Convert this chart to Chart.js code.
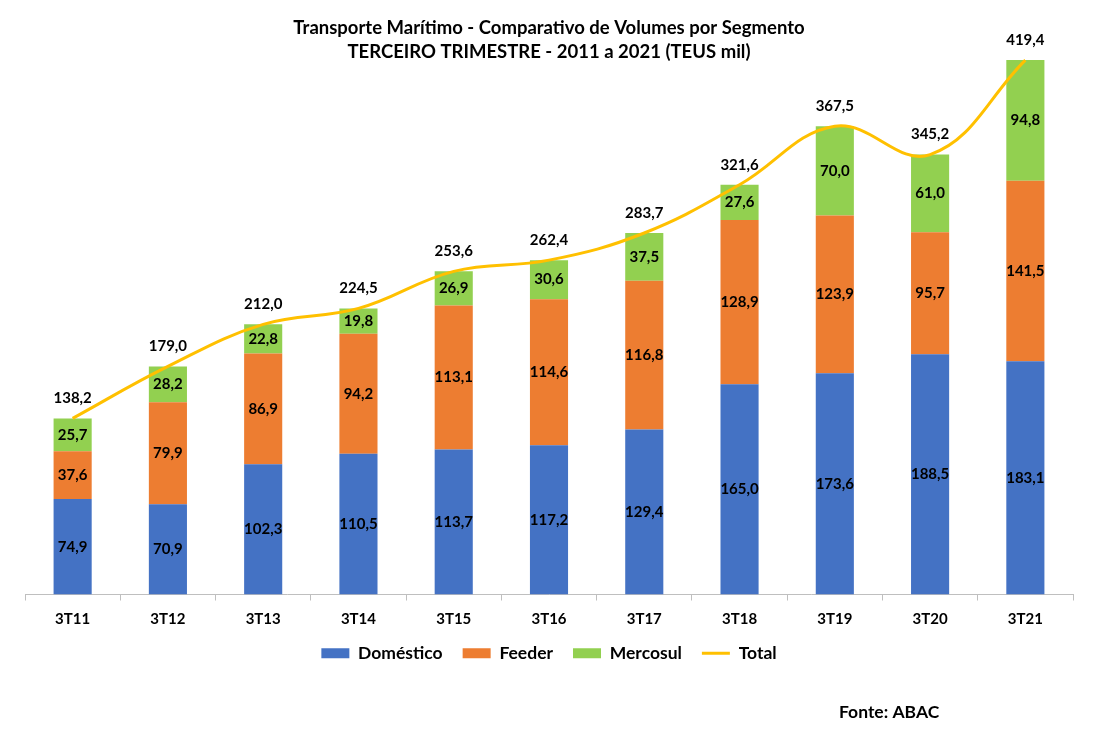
<!DOCTYPE html>
<html>
<head>
<meta charset="utf-8">
<script src="https://cdn.jsdelivr.net/npm/chart.js@4.4.0/dist/chart.umd.min.js"></script>
<style>
  html, body { margin: 0; padding: 0; background: #fff; }
  #wrap { width: 1099px; height: 747px; }
</style>
</head>
<body>
<div id="wrap"><canvas id="chart" width="1099" height="747"></canvas></div>
<script>
const categories = ["3T11", "3T12", "3T13", "3T14", "3T15", "3T16", "3T17", "3T18", "3T19", "3T20", "3T21"];
const domestico = [74.9, 70.9, 102.3, 110.5, 113.7, 117.2, 129.4, 165.0, 173.6, 188.5, 183.1];
const feeder = [37.6, 79.9, 86.9, 94.2, 113.1, 114.6, 116.8, 128.9, 123.9, 95.7, 141.5];
const mercosul = [25.7, 28.2, 22.8, 19.8, 26.9, 30.6, 37.5, 27.6, 70.0, 61.0, 94.8];
const total = [138.2, 179.0, 212.0, 224.5, 253.6, 262.4, 283.7, 321.6, 367.5, 345.2, 419.4];

const titleLines = ["Transporte Marítimo - Comparativo de Volumes por Segmento", "TERCEIRO TRIMESTRE - 2011 a 2021 (TEUS mil)"];
const source = "Fonte: ABAC";

const FONT = "Lato, 'Open Sans', sans-serif";
const fmt = v => v.toFixed(1).replace(".", ",");

// rótulos, título e fonte desenhados à mão
const labelsPlugin = {
  id: "labels",
  afterDatasetsDraw(chart) {
    const ctx = chart.ctx;
    ctx.save();
    ctx.fillStyle = "#000";
    ctx.textAlign = "center";
    ctx.textBaseline = "middle";
    ctx.font = "bold 15px " + FONT;
    chart.data.datasets.forEach((ds, i) => {
      const meta = chart.getDatasetMeta(i);
      meta.data.forEach((el, j) => {
        const v = ds.data[j];
        if (ds.type === "line") {
          ctx.fillText(fmt(v), el.x, el.y - 20);
        } else {
          ctx.fillText(fmt(v), el.x, (el.y + el.base) / 2);
        }
      });
    });
    ctx.restore();
  },
  afterDraw(chart) {
    const ctx = chart.ctx;
    ctx.save();
    ctx.fillStyle = "#000";
    ctx.textAlign = "center";
    ctx.textBaseline = "middle";
    ctx.font = "bold 18.5px " + FONT;
    ctx.fillText(titleLines[0], 549, 28);
    ctx.fillText(titleLines[1], 549, 52);
    ctx.textAlign = "left";
    ctx.font = "bold 17.5px " + FONT;
    ctx.fillText(source, 839, 712);
    ctx.restore();
  }
};

new Chart(document.getElementById("chart"), {
  data: {
    labels: categories,
    datasets: [
      {
        type: "line",
        label: "Total",
        data: total,
        borderColor: "#FFC000",
        backgroundColor: "#FFC000",
        borderWidth: 3,
        pointRadius: 0,
        tension: 0.4,
        order: 0,
      },
      { type: "bar", label: "Doméstico", data: domestico, backgroundColor: "#4472C4", order: 1 },
      { type: "bar", label: "Feeder", data: feeder, backgroundColor: "#ED7D31", order: 1 },
      { type: "bar", label: "Mercosul", data: mercosul, backgroundColor: "#92D050", order: 1 },
    ],
  },
  options: {
    responsive: false,
    animation: false,
    layout: { padding: { top: 30, left: 25, right: 26, bottom: 75 } },
    datasets: { bar: { categoryPercentage: 1, barPercentage: 0.4 } },
    scales: {
      x: {
        stacked: true,
        border: { display: true, color: "#BFBFBF", width: 1 },
        grid: { offset: true, drawOnChartArea: false, drawTicks: true, tickLength: 6, color: "#BFBFBF" },
        ticks: { color: "#000", font: { family: FONT, size: 15, weight: "bold" }, padding: 10 },
        afterFit(scale) { scale.height -= 14; },
      },
      y: { stacked: true, display: false, min: 0, max: 443 },
    },
    plugins: {
      title: { display: false },
      tooltip: { enabled: false },
      legend: {
        position: "bottom",
        labels: {
          color: "#000",
          font: { family: FONT, size: 17.5, weight: "bold" },
          usePointStyle: true,
          boxWidth: 28,
          boxHeight: 10,
          pointStyleWidth: 28,
          padding: 20,
          generateLabels(chart) {
            const order = [1, 2, 3, 0];
            return order.map(i => {
              const ds = chart.data.datasets[i];
              const isLine = ds.type === "line";
              return {
                text: ds.label,
                datasetIndex: i,
                fillStyle: ds.backgroundColor,
                strokeStyle: isLine ? ds.borderColor : ds.backgroundColor,
                lineWidth: isLine ? 3 : 0,
                pointStyle: isLine ? "line" : "rect",
                fontColor: "#000",
                hidden: false,
              };
            });
          },
        },
      },
    },
  },
  plugins: [labelsPlugin],
});
</script>
</body>
</html>
